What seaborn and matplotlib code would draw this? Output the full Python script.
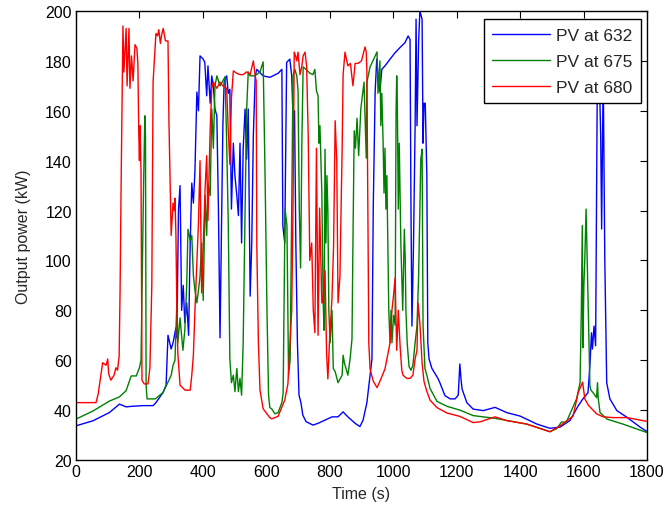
import matplotlib
matplotlib.use("Agg")
import matplotlib.pyplot as plt
import seaborn as sns
import pandas as pd

# ---------------- data ----------------
series_names = ["PV at 632", "PV at 675", "PV at 680"]
series_colors = ["#0000ff", "#008000", "#ff0000"]

t_632 = [0, 53, 105, 137, 158, 174, 210, 243, 252, 274, 284, 290, 300, 306, 315, 318, 323, 328, 333, 338,
         343, 349, 355, 360, 365, 370, 375, 381, 386, 391, 401, 406, 412, 416, 423, 428, 433, 438, 444, 449,
         454, 458, 463, 467, 475, 480, 485, 490, 496, 501, 507, 512, 517, 522, 527, 533, 538, 543, 549, 554,
         559, 565, 570, 580, 590, 611, 637, 649, 652, 658, 664, 674, 680, 685, 689, 693, 698, 703, 709, 715,
         725, 747, 763, 785, 807, 826, 842, 857, 880, 895, 905, 917, 927, 933, 937, 943, 948, 952, 958, 964,
         974, 990, 1006, 1021, 1037, 1047, 1053, 1056, 1059, 1064, 1069, 1072, 1075, 1080, 1084, 1091, 1094,
         1097, 1101, 1106, 1109, 1113, 1122, 1141, 1147, 1163, 1180, 1195, 1205, 1210, 1214, 1217, 1232, 1252,
         1284, 1321, 1358, 1400, 1453, 1494, 1526, 1557, 1583, 1598, 1614, 1620, 1625, 1628, 1633, 1638, 1643,
         1649, 1654, 1657, 1662, 1667, 1673, 1683, 1705, 1737, 1778, 1800]
v_632 = [33.7, 35.7, 39, 42.4, 41.3, 41.5, 41.8, 41.8, 43, 47, 50, 70, 64.5, 67, 73, 69, 120, 130, 80, 90,
         75, 83, 70, 107, 131, 123, 136, 167.5, 160, 182, 180.7, 179.4, 166, 178, 163, 174, 170, 160.7, 158, 120.6,
         69, 107, 154, 171.5, 174, 167, 168.6, 120.6, 147, 134, 126, 118, 147, 107, 144.6, 160.7, 140.6, 160.7, 85.7, 107,
         150, 174, 176.6, 175.3, 174, 173.4, 175, 176.6, 114, 107, 179.4, 180.7, 174, 154, 160, 107, 67, 46, 43, 38,
         35.4, 34, 34.7, 36, 37.3, 37.3, 39.3, 37.3, 34.7, 33.4, 36, 43, 54, 60.5, 121, 167.5, 180.7, 174, 167.5, 176.6,
         178, 180.7, 183.3, 185.3, 187.3, 190, 188.6, 120, 73.7, 107, 154, 196.7, 154, 187.3, 200, 196.7, 147,
         163, 163, 134, 67, 60.5, 56.7, 52.7, 51, 45.8, 44.5, 44.5, 46, 58.5, 52, 48.5, 43, 40.4,
         39.8, 41.1, 39, 37.6, 34.4, 32.7, 33.2, 35.8, 41.7, 44.5, 47, 57.8, 71, 64.5, 73.7, 65.8, 164.7,
         178, 150, 112.6, 175, 100, 51, 44.5, 39.8, 37.1, 33.2, 31.4]

t_675 = [0, 53, 105, 137, 158, 174, 190, 200, 205, 209, 213, 217, 219, 221, 224, 250, 274, 293, 300, 306,
         312, 318, 321, 328, 337, 343, 349, 353, 360, 365, 370, 375, 381, 386, 391, 396, 401, 407, 412, 416,
         423, 428, 433, 438, 444, 454, 463, 470, 475, 480, 485, 490, 496, 501, 507, 512, 517, 522, 527, 533,
         538, 543, 549, 559, 570, 580, 590, 596, 602, 607, 611, 617, 627, 637, 649, 653, 659, 665, 670, 675,
         680, 684, 690, 696, 700, 704, 708, 712, 716, 725, 738, 747, 753, 758, 763, 766, 769, 775, 779, 782,
         785, 788, 791, 794, 797, 801, 807, 811, 817, 826, 839, 842, 846, 857, 864, 870, 873, 877, 881, 886,
         891, 898, 908, 911, 915, 917, 927, 937, 949, 952, 958, 961, 964, 968, 971, 974, 977, 980, 983, 986,
         990, 993, 996, 1001, 1006, 1009, 1011, 1013, 1016, 1019, 1024, 1030, 1035, 1038, 1040, 1044, 1050,
         1056, 1062, 1069, 1075, 1080, 1084, 1087, 1091, 1094, 1100, 1106, 1116, 1138, 1170, 1210, 1252, 1321,
         1421, 1494, 1515, 1531, 1545, 1578, 1589, 1593, 1596, 1598, 1601, 1604, 1608, 1610, 1613, 1616, 1620,
         1623, 1630, 1641, 1644, 1646, 1652, 1674, 1724, 1800]
v_675 = [36.4, 39.6, 43.6, 45.3, 47.8, 53.7, 53.7, 57, 60, 95, 130, 158, 150, 50, 44.5, 44.5, 47, 52, 54, 58,
         60, 83, 67, 77, 64, 72, 90, 112.5, 108, 110, 94, 88, 83, 88, 93.5, 107, 84, 126, 110, 131,
         126, 160.7, 145, 170, 174, 170, 172, 173.7, 147, 115, 60.5, 51, 54, 47.4, 56.7, 47.4, 52.7, 46, 67, 120,
         160.7, 175.6, 174, 174, 174.5, 175.6, 179.6, 134, 80, 46, 41, 40.5, 38.5, 39, 43, 47, 120.6, 114, 54, 60,
         120, 174, 176.6, 174, 168, 120, 97, 147, 177.6, 176.6, 175, 174.5, 176.6, 168, 166, 147, 154, 127, 84, 72,
         144.6, 107, 134, 120, 80, 67, 80, 56.7, 55.4, 51, 54, 62, 59, 54, 60.5, 68.5, 107, 152, 145, 157,
         142, 161, 171.5, 158, 141, 171.5, 177.6, 180.3, 183.6, 167, 180, 154, 167, 148, 127, 145, 120.6, 134, 107, 80,
         67, 80, 67, 78, 74, 160, 174, 163, 120.6, 147, 107, 80, 112.5, 100, 80, 67, 57.4,
         56, 58, 67, 74, 93.5, 120.6, 140.6, 144.6, 74, 56.7, 54, 48.7, 43.5, 41.5, 40, 37.8, 36.7,
         34.4, 31.4, 32.5, 35.3, 35, 44.5, 51, 80, 114, 65, 90, 100.6, 120.6, 108.6, 91, 71, 50,
         48, 47, 45, 51, 45, 39, 36.4, 34.4, 31]

t_680 = [0, 63, 70, 84, 95, 100, 103, 110, 120, 126, 131, 136, 139, 142, 148, 151, 158, 161, 167, 168,
         170, 175, 180, 186, 192, 195, 198, 200, 202, 205, 208, 215, 227, 233, 239, 243, 249, 252, 257, 261,
         266, 270, 275, 282, 290, 293, 296, 300, 306, 310, 312, 315, 318, 321, 328, 344, 360, 365, 370, 375,
         381, 386, 391, 396, 401, 407, 412, 416, 423, 428, 433, 444, 454, 463, 475, 480, 485, 490, 496, 507,
         517, 527, 538, 549, 559, 565, 568, 570, 575, 580, 590, 611, 617, 637, 658, 668, 680, 684, 688, 692,
         696, 700, 706, 712, 716, 722, 727, 732, 737, 743, 748, 753, 758, 763, 768, 775, 778, 785, 790, 794,
         799, 807, 812, 817, 822, 826, 832, 839, 842, 848, 857, 865, 873, 880, 889, 900, 911, 915, 917, 920,
         923, 927, 937, 949, 958, 974, 990, 996, 1001, 1006, 1011, 1016, 1022, 1027, 1031, 1043, 1053, 1062,
         1069, 1075, 1078, 1084, 1091, 1097, 1106, 1116, 1138, 1170, 1210, 1252, 1274, 1321, 1358, 1421, 1494,
         1526, 1567, 1583, 1597, 1604, 1615, 1641, 1662, 1693, 1737, 1795, 1800]
v_680 = [43, 43, 46.5, 59, 58, 60.5, 54.5, 52, 54, 57, 56, 61.6, 88.5, 128, 194, 175.5, 193, 170, 193, 185,
         169, 182, 172, 186.5, 185, 179, 150, 140, 154, 135, 52, 50.5, 50.5, 57, 90, 171.5, 185, 191, 190, 192.5,
         187, 190.5, 193, 188, 188, 155.6, 136, 110, 123, 120, 125, 110, 80.5, 62.7, 50, 48, 48, 54, 62, 80,
         99.4, 115, 140, 87, 105, 129, 142, 116, 153, 169, 171.5, 169, 171.5, 170, 169, 152, 138.5, 165, 176, 175,
         174.5, 174.5, 175.6, 174.5, 180, 174, 172, 106, 67, 48, 40.5, 37, 36.5, 37.5, 44, 50.5, 80, 120, 183.5, 182,
         180, 183.5, 174.5, 178, 182, 183.5, 178, 150, 100, 107, 80, 71, 145, 70, 121, 83, 83, 96, 62.5, 52.5,
         67, 85, 106, 156, 140, 83, 93.5, 145, 174.5, 183.5, 178, 179, 170, 179, 179, 180, 185.6, 183.5, 176, 121,
         67, 56.5, 51.6, 49, 51.6, 56.5, 67, 80, 86, 93, 64, 80, 65, 56, 54, 52.7, 52.7, 54,
         60.5, 64, 83, 75, 59, 51.5, 47.5, 44, 41, 38.8, 37.5, 35, 35.3, 37.3, 35.8, 34.4, 31.3,
         33.7, 37.6, 47, 51.2, 44.5, 42, 38.5, 37.3, 37, 37, 35.6, 35.6]

x_ticks = [0, 200, 400, 600, 800, 1000, 1200, 1400, 1600, 1800]
y_ticks = [20, 40, 60, 80, 100, 120, 140, 160, 180, 200]

# ---------------- build table ----------------
frames = []
for name, t, v in zip(series_names, [t_632, t_675, t_680], [v_632, v_675, v_680]):
    frames.append(pd.DataFrame({"Time": t, "Power": v, "Series": name}))
df = pd.concat(frames, ignore_index=True)

# ---------------- style ----------------
sns.set_style("white")
plt.rcParams["font.family"] = ["Liberation Sans", "DejaVu Sans"]

fig = plt.figure(figsize=(6.64, 5.10), dpi=100)
ax = fig.add_axes([76 / 664, 1 - 461 / 510, (647 - 76) / 664, (461 - 12) / 510])

sns.lineplot(data=df, x="Time", y="Power", hue="Series", hue_order=series_names,
             palette=dict(zip(series_names, series_colors)), estimator=None, sort=False,
             linewidth=1.0, ax=ax)

ax.set_xlim(0, 1800)
ax.set_ylim(20, 200)
ax.set_xticks(x_ticks)
ax.set_yticks(y_ticks)
ax.tick_params(direction="in", length=5, width=0.8, top=True, right=True,
               labelsize=11.5, colors="black", pad=3)
for s in ax.spines.values():
    s.set_visible(True)
    s.set_color("black")
    s.set_linewidth(1.0)
ax.set_xlabel("Time (s)", fontsize=11.5, labelpad=5)
ax.set_ylabel("Output power (kW)", fontsize=11.5, labelpad=10)

leg = ax.legend(loc="upper right", bbox_to_anchor=(0.989, 0.982), borderaxespad=0,
                fontsize=12.5, frameon=True, fancybox=False, handlelength=3.3,
                handletextpad=0.35, labelspacing=0.62, borderpad=0.5, framealpha=1)
leg.get_frame().set_edgecolor("black")
leg.get_frame().set_linewidth(1.0)
for h in leg.get_lines():
    h.set_linewidth(1.0)

fig.savefig("out.png", dpi=100)
